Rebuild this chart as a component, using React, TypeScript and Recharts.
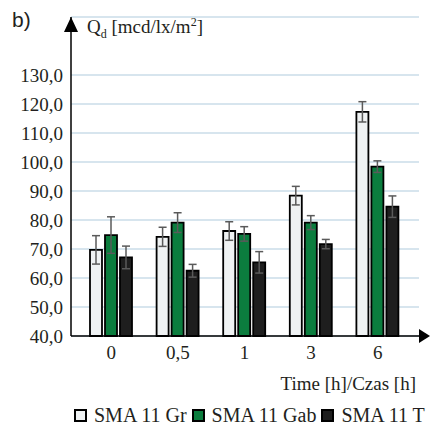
import { BarChart, Bar, XAxis, YAxis, CartesianGrid, ErrorBar, Legend } from 'recharts'

const times = ['0', '0,5', '1', '3', '6']
const seriesNames = ['SMA 11 Gr', 'SMA 11 Gab', 'SMA 11 T']
const seriesFills = ['#eff2f3', '#0b7d3e', '#1e1e1e']
const grValues = [69.7, 74.2, 76.2, 88.4, 117.3]
const grErrors = [4.9, 3.3, 3.2, 3.2, 3.5]
const gabValues = [74.8, 79.1, 75.2, 79.1, 98.4]
const gabErrors = [6.3, 3.4, 2.5, 2.4, 2.0]
const tValues = [67.1, 62.5, 65.4, 71.7, 84.6]
const tErrors = [3.9, 2.2, 3.7, 1.6, 3.7]
const yTicks = [40, 50, 60, 70, 80, 90, 100, 110, 120, 130]

const serif = 'Liberation Serif, Tinos, Times New Roman, DejaVu Serif, serif'
const textColor = '#231f20'

const data = times.map((t, i) => ({
  time: t,
  gr: grValues[i],
  grErr: grErrors[i],
  gab: gabValues[i],
  gabErr: gabErrors[i],
  t: tValues[i],
  tErr: tErrors[i],
}))

const fmt = (v: number) => v.toFixed(1).replace('.', ',')

function YLabel(props: any) {
  const { x, y, width } = props.viewBox
  const ax = x + width
  return (
    <g>
      <polygon points={`${ax},${y} ${ax - 7},${y + 15} ${ax + 7},${y + 15}`} fill="#000" />
      <text x={ax + 16} y={y + 16} style={{ fontFamily: serif, fontSize: 19 }} fill={textColor}>
        Q
        <tspan fontSize={12} dy={5}>d</tspan>
        <tspan dy={-5}> [mcd/lx/m</tspan>
        <tspan fontSize={12} dy={-7}>2</tspan>
        <tspan dy={7}>]</tspan>
      </text>
    </g>
  )
}

function XLabel(props: any) {
  const { x, y, width } = props.viewBox
  const ax = x + width
  return (
    <g>
      <polygon points={`${ax},${y - 7} ${ax + 11},${y} ${ax},${y + 7}`} fill="#000" />
      <text x={ax - 3} y={y + 54} textAnchor="end" style={{ fontFamily: serif, fontSize: 19 }} fill={textColor}>
        Time [h]/Czas [h]
      </text>
    </g>
  )
}

// legend drawn in series order, not sorted by name
function LegendContent() {
  return (
    <div style={{ display: 'flex', alignItems: 'center', fontFamily: serif, fontSize: 20, color: textColor }}>
      {seriesNames.map((name, i) => (
        <div key={name} style={{ display: 'flex', alignItems: 'center', marginRight: 5 }}>
          <span
            style={{
              display: 'inline-block',
              width: 9,
              height: 9,
              background: seriesFills[i],
              border: '2px solid #000',
              marginRight: 7,
            }}
          />
          <span>{name}</span>
        </div>
      ))}
    </div>
  )
}

const tickStyle = { fill: textColor, fontFamily: serif, fontSize: 19 }

export default function App() {
  return (
    <div style={{ position: 'absolute', left: 0, top: 0, width: 430, height: 430, background: '#fff', fontFamily: serif }}>
      <div
        style={{
          position: 'absolute',
          left: 12,
          top: 8,
          fontFamily: 'Liberation Sans, Arial, sans-serif',
          fontSize: 21,
          color: textColor,
          zIndex: 2,
        }}
      >
        b)
      </div>
      <BarChart
        width={430}
        height={430}
        data={data}
        margin={{ top: 17, right: 11, bottom: 34, left: 0 }}
        barSize={12}
        barGap={3}
        style={{ fontFamily: serif }}
      >
        <CartesianGrid horizontal vertical={false} stroke="#cadde8" strokeWidth={1.5} />
        <XAxis
          dataKey="time"
          height={60}
          padding={{ left: 7, right: 8 }}
          tickLine={false}
          tickSize={0}
          tickMargin={10}
          axisLine={{ stroke: '#000', strokeWidth: 1.5 }}
          tick={tickStyle}
          label={{ content: XLabel }}
        />
        <YAxis
          width={71}
          domain={[40, 150]}
          ticks={yTicks}
          interval={0}
          tickFormatter={fmt}
          tickLine={false}
          tickSize={0}
          tickMargin={8}
          axisLine={{ stroke: '#000', strokeWidth: 1.5 }}
          tick={tickStyle}
          label={{ content: YLabel }}
        />
        <Legend
          verticalAlign="middle"
          align="center"
          layout="horizontal"
          wrapperStyle={{ top: 404, left: 74, width: 'auto' }}
          content={LegendContent}
        />
        <Bar dataKey="gr" name={seriesNames[0]} fill={seriesFills[0]} stroke="#000" strokeWidth={1.8} isAnimationActive={false}>
          <ErrorBar dataKey="grErr" width={4} stroke="#5a5a5a" strokeWidth={1.5} />
        </Bar>
        <Bar dataKey="gab" name={seriesNames[1]} fill={seriesFills[1]} stroke="#000" strokeWidth={1.8} isAnimationActive={false}>
          <ErrorBar dataKey="gabErr" width={4} stroke="#5a5a5a" strokeWidth={1.5} />
        </Bar>
        <Bar dataKey="t" name={seriesNames[2]} fill={seriesFills[2]} stroke="#000" strokeWidth={1.8} isAnimationActive={false}>
          <ErrorBar dataKey="tErr" width={4} stroke="#5a5a5a" strokeWidth={1.5} />
        </Bar>
      </BarChart>
    </div>
  )
}
